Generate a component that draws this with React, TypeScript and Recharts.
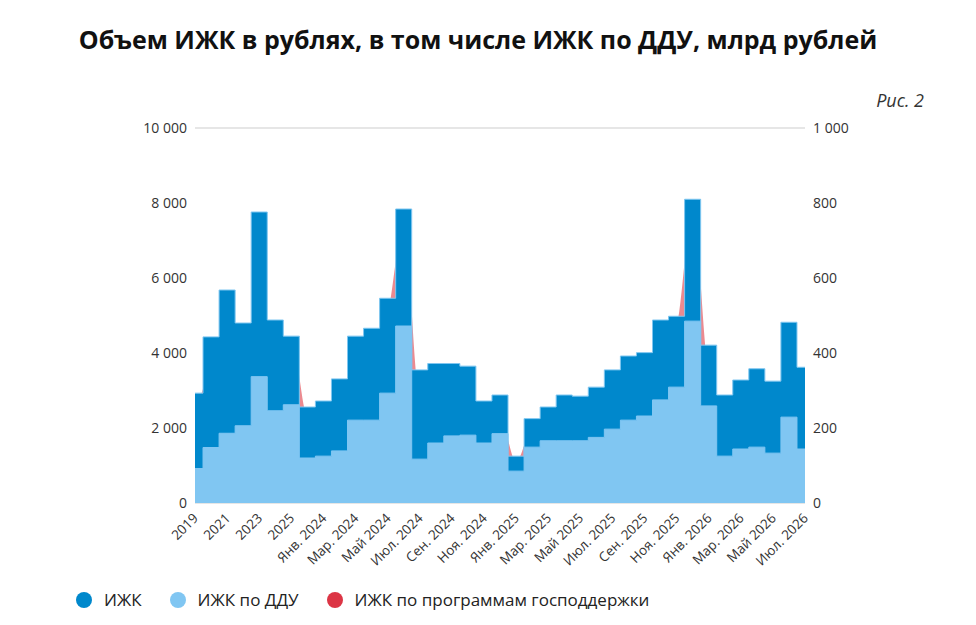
import React from 'react';
import { ComposedChart, Area, XAxis, YAxis, CartesianGrid } from 'recharts';

const categories = ['2019','2020','2021','2022','2023','2024','2025','Дек. 2023','Янв. 2024','Фев. 2024','Мар. 2024','Апр. 2024','Май 2024','Июн. 2024','Июл. 2024','Авг. 2024','Сен. 2024','Окт. 2024','Ноя. 2024','Дек. 2024','Янв. 2025','Фев. 2025','Мар. 2025','Апр. 2025','Май 2025','Июн. 2025','Июл. 2025','Авг. 2025','Сен. 2025','Окт. 2025','Ноя. 2025','Дек. 2025','Янв. 2026','Фев. 2026','Мар. 2026','Апр. 2026','Май 2026','Июн. 2026','Июл. 2026'];
const izhk = [2930,4430,5680,4800,7760,4880,4450,2560,2720,3310,4450,4660,5460,7840,3550,3720,3720,3650,2720,2880,1250,2250,2560,2880,2850,3090,3550,3920,4010,4880,4980,8100,4210,2880,3280,3580,3250,4820,3620];
const izhkDdu = [920,1480,1860,2060,3370,2460,2620,1200,1250,1390,2210,2210,2930,4720,1170,1600,1790,1810,1600,1850,850,1490,1660,1660,1660,1750,1970,2210,2320,2750,3090,4850,2590,1250,1440,1490,1330,2290,1440];
const izhkGov = [240,360,440,380,560,390,440,230,220,270,360,380,500,740,290,300,300,295,220,230,110,200,210,235,235,250,290,320,330,400,470,780,340,235,265,290,265,390,290];
const leftTicks = [0,2000,4000,6000,8000,10000];
const rightTicks = [0,200,400,600,800,1000];

const data = categories.map((c, i) => ({ c, izhk: izhk[i], ddu: izhkDdu[i], gov: izhkGov[i] }));
const fmt = (v: number) => v.toLocaleString('ru-RU').replace(/\u00a0|\u202f/g, ' ');
const font = '"Open Sans", Inter, sans-serif';

const XTick = (props: any) => {
  const { x, y, payload } = props;
  return (
    <text x={x + 4} y={y + 8} transform={`rotate(-45 ${x + 4} ${y + 8})`} textAnchor="end" fontSize={13.5} fill="#333" fontFamily={font}>
      {payload.value}
    </text>
  );
};

export default function App() {
  return (
    <div style={{ position: 'relative', width: 976, height: 625, fontFamily: font, margin: -8 }}>
      <div style={{ position: 'absolute', top: 22, left: 0, width: 956, textAlign: 'center', fontSize: 25, fontWeight: 700, color: '#111' }}>
        Объем ИЖК в рублях, в том числе ИЖК по ДДУ, млрд рублей
      </div>
      <div style={{ position: 'absolute', top: 88, right: 52, fontSize: 18, fontStyle: 'italic', color: '#333' }}>Рис. 2</div>
      <div style={{ position: 'absolute', top: 0, left: 0 }}>
        <ComposedChart width={976} height={625} data={data} margin={{ top: 128, bottom: 72, left: 135, right: 111 }}>
          <CartesianGrid vertical={false} stroke="#e6e6e6" strokeWidth={2} />
          <XAxis dataKey="c" interval={1} tick={<XTick />} tickLine={false} axisLine={false} height={50} />
          <YAxis yAxisId="l" domain={[0, 10000]} ticks={leftTicks} tickFormatter={fmt} width={60} axisLine={false} tickLine={false} tick={{ fontSize: 14, fill: '#333', fontFamily: font }} />
          <YAxis yAxisId="r" orientation="right" domain={[0, 1000]} ticks={rightTicks} tickFormatter={fmt} width={60} axisLine={false} tickLine={false} tick={{ fontSize: 14, fill: '#333', fontFamily: font, textAnchor: 'start' }} />
          <Area yAxisId="r" type="monotone" dataKey="gov" stroke="none" fill="#e7757c" fillOpacity={0.85} isAnimationActive={false} />
          <Area yAxisId="l" type="step" dataKey="izhk" stroke="#7fc6f0" strokeWidth={1} fill="#0088cc" fillOpacity={1} isAnimationActive={false} />
          <Area yAxisId="l" type="step" dataKey="ddu" stroke="#80c6f2" strokeWidth={1} fill="#80c6f2" fillOpacity={1} isAnimationActive={false} />
        </ComposedChart>
      </div>
      <div style={{ position: 'absolute', top: 588, left: 76, display: 'flex', alignItems: 'center', fontSize: 17, color: '#222' }}>
        {[['#0088cc', 'ИЖК'], ['#80c6f2', 'ИЖК по ДДУ'], ['#dc3545', 'ИЖК по программам господдержки']].map(([col, label]) => (
          <div key={label} style={{ display: 'flex', alignItems: 'center', marginRight: 28 }}>
            <span style={{ width: 16, height: 16, borderRadius: 8, background: col, marginRight: 12, display: 'inline-block' }} />
            {label}
          </div>
        ))}
      </div>
    </div>
  );
}
